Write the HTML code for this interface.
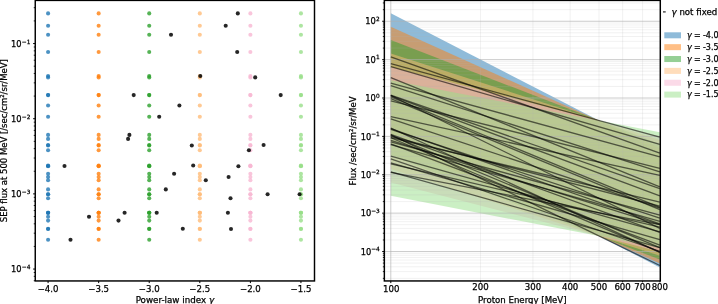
<!DOCTYPE html>
<html lang="en"><head><meta charset="utf-8"><title>SEP flux vs power-law index</title>
<style>html,body{margin:0;padding:0;background:#fff;overflow:hidden}svg{display:block}text{stroke:#000;stroke-width:.25px}</style></head>
<body>
<svg width="718" height="304" viewBox="0 0 718 304" style="display:block;font-family:'DejaVu Sans', 'Liberation Sans', sans-serif;font-size:8.6px" fill="#000">
<rect width="718" height="304" fill="#fff"/>
<g id="left">
<g fill="#1f77b4" fill-opacity="0.8">
<circle cx="48.08" cy="13.40" r="2.05"/>
<circle cx="48.08" cy="25.75" r="2.05"/>
<circle cx="48.08" cy="34.75" r="2.05"/>
<circle cx="48.08" cy="52.00" r="2.05"/>
<circle cx="48.08" cy="76.00" r="2.05"/>
<circle cx="48.08" cy="77.40" r="2.05"/>
<circle cx="48.08" cy="95.10" r="2.05"/>
<circle cx="48.08" cy="95.10" r="2.05"/>
<circle cx="48.08" cy="105.50" r="2.05"/>
<circle cx="48.08" cy="116.80" r="2.05"/>
<circle cx="48.08" cy="134.90" r="2.05"/>
<circle cx="48.08" cy="138.90" r="2.05"/>
<circle cx="48.08" cy="145.50" r="2.05"/>
<circle cx="48.08" cy="145.00" r="2.05"/>
<circle cx="48.08" cy="150.30" r="2.05"/>
<circle cx="48.08" cy="166.00" r="2.05"/>
<circle cx="48.08" cy="165.50" r="2.05"/>
<circle cx="48.08" cy="166.30" r="2.05"/>
<circle cx="48.08" cy="173.80" r="2.05"/>
<circle cx="48.08" cy="177.00" r="2.05"/>
<circle cx="48.08" cy="180.30" r="2.05"/>
<circle cx="48.08" cy="189.40" r="2.05"/>
<circle cx="48.08" cy="194.20" r="2.05"/>
<circle cx="48.08" cy="194.20" r="2.05"/>
<circle cx="48.08" cy="198.20" r="2.05"/>
<circle cx="48.08" cy="212.80" r="2.05"/>
<circle cx="48.08" cy="212.80" r="2.05"/>
<circle cx="48.08" cy="212.80" r="2.05"/>
<circle cx="48.08" cy="216.80" r="2.05"/>
<circle cx="48.08" cy="220.60" r="2.05"/>
<circle cx="48.08" cy="228.80" r="2.05"/>
<circle cx="48.08" cy="229.00" r="2.05"/>
<circle cx="48.08" cy="239.70" r="2.05"/>
</g>
<g fill="#ff7f0e" fill-opacity="0.8">
<circle cx="98.66" cy="13.40" r="2.05"/>
<circle cx="98.66" cy="25.75" r="2.05"/>
<circle cx="98.66" cy="34.75" r="2.05"/>
<circle cx="98.66" cy="52.00" r="2.05"/>
<circle cx="98.66" cy="76.00" r="2.05"/>
<circle cx="98.66" cy="77.40" r="2.05"/>
<circle cx="98.66" cy="95.10" r="2.05"/>
<circle cx="98.66" cy="95.10" r="2.05"/>
<circle cx="98.66" cy="105.50" r="2.05"/>
<circle cx="98.66" cy="116.80" r="2.05"/>
<circle cx="98.66" cy="134.90" r="2.05"/>
<circle cx="98.66" cy="138.90" r="2.05"/>
<circle cx="98.66" cy="145.50" r="2.05"/>
<circle cx="98.66" cy="145.00" r="2.05"/>
<circle cx="98.66" cy="150.30" r="2.05"/>
<circle cx="98.66" cy="166.00" r="2.05"/>
<circle cx="98.66" cy="165.50" r="2.05"/>
<circle cx="98.66" cy="166.30" r="2.05"/>
<circle cx="98.66" cy="173.80" r="2.05"/>
<circle cx="98.66" cy="177.00" r="2.05"/>
<circle cx="98.66" cy="180.30" r="2.05"/>
<circle cx="98.66" cy="189.40" r="2.05"/>
<circle cx="98.66" cy="194.20" r="2.05"/>
<circle cx="98.66" cy="194.20" r="2.05"/>
<circle cx="98.66" cy="198.20" r="2.05"/>
<circle cx="98.66" cy="212.80" r="2.05"/>
<circle cx="98.66" cy="212.80" r="2.05"/>
<circle cx="98.66" cy="212.80" r="2.05"/>
<circle cx="98.66" cy="216.80" r="2.05"/>
<circle cx="98.66" cy="220.60" r="2.05"/>
<circle cx="98.66" cy="228.80" r="2.05"/>
<circle cx="98.66" cy="229.00" r="2.05"/>
<circle cx="98.66" cy="239.70" r="2.05"/>
</g>
<g fill="#2ca02c" fill-opacity="0.8">
<circle cx="149.23" cy="13.40" r="2.05"/>
<circle cx="149.23" cy="25.75" r="2.05"/>
<circle cx="149.23" cy="34.75" r="2.05"/>
<circle cx="149.23" cy="52.00" r="2.05"/>
<circle cx="149.23" cy="76.00" r="2.05"/>
<circle cx="149.23" cy="77.40" r="2.05"/>
<circle cx="149.23" cy="95.10" r="2.05"/>
<circle cx="149.23" cy="95.10" r="2.05"/>
<circle cx="149.23" cy="105.50" r="2.05"/>
<circle cx="149.23" cy="116.80" r="2.05"/>
<circle cx="149.23" cy="134.90" r="2.05"/>
<circle cx="149.23" cy="138.90" r="2.05"/>
<circle cx="149.23" cy="145.50" r="2.05"/>
<circle cx="149.23" cy="145.00" r="2.05"/>
<circle cx="149.23" cy="150.30" r="2.05"/>
<circle cx="149.23" cy="166.00" r="2.05"/>
<circle cx="149.23" cy="165.50" r="2.05"/>
<circle cx="149.23" cy="166.30" r="2.05"/>
<circle cx="149.23" cy="173.80" r="2.05"/>
<circle cx="149.23" cy="177.00" r="2.05"/>
<circle cx="149.23" cy="180.30" r="2.05"/>
<circle cx="149.23" cy="189.40" r="2.05"/>
<circle cx="149.23" cy="194.20" r="2.05"/>
<circle cx="149.23" cy="194.20" r="2.05"/>
<circle cx="149.23" cy="198.20" r="2.05"/>
<circle cx="149.23" cy="212.80" r="2.05"/>
<circle cx="149.23" cy="212.80" r="2.05"/>
<circle cx="149.23" cy="212.80" r="2.05"/>
<circle cx="149.23" cy="216.80" r="2.05"/>
<circle cx="149.23" cy="220.60" r="2.05"/>
<circle cx="149.23" cy="228.80" r="2.05"/>
<circle cx="149.23" cy="229.00" r="2.05"/>
<circle cx="149.23" cy="239.70" r="2.05"/>
</g>
<g fill="#ffbb78" fill-opacity="0.8">
<circle cx="199.81" cy="13.40" r="2.05"/>
<circle cx="199.81" cy="25.75" r="2.05"/>
<circle cx="199.81" cy="34.75" r="2.05"/>
<circle cx="199.81" cy="52.00" r="2.05"/>
<circle cx="199.81" cy="76.00" r="2.05"/>
<circle cx="199.81" cy="77.40" r="2.05"/>
<circle cx="199.81" cy="95.10" r="2.05"/>
<circle cx="199.81" cy="95.10" r="2.05"/>
<circle cx="199.81" cy="105.50" r="2.05"/>
<circle cx="199.81" cy="116.80" r="2.05"/>
<circle cx="199.81" cy="134.90" r="2.05"/>
<circle cx="199.81" cy="138.90" r="2.05"/>
<circle cx="199.81" cy="145.50" r="2.05"/>
<circle cx="199.81" cy="145.00" r="2.05"/>
<circle cx="199.81" cy="150.30" r="2.05"/>
<circle cx="199.81" cy="166.00" r="2.05"/>
<circle cx="199.81" cy="165.50" r="2.05"/>
<circle cx="199.81" cy="166.30" r="2.05"/>
<circle cx="199.81" cy="173.80" r="2.05"/>
<circle cx="199.81" cy="177.00" r="2.05"/>
<circle cx="199.81" cy="180.30" r="2.05"/>
<circle cx="199.81" cy="189.40" r="2.05"/>
<circle cx="199.81" cy="194.20" r="2.05"/>
<circle cx="199.81" cy="194.20" r="2.05"/>
<circle cx="199.81" cy="198.20" r="2.05"/>
<circle cx="199.81" cy="212.80" r="2.05"/>
<circle cx="199.81" cy="212.80" r="2.05"/>
<circle cx="199.81" cy="212.80" r="2.05"/>
<circle cx="199.81" cy="216.80" r="2.05"/>
<circle cx="199.81" cy="220.60" r="2.05"/>
<circle cx="199.81" cy="228.80" r="2.05"/>
<circle cx="199.81" cy="229.00" r="2.05"/>
<circle cx="199.81" cy="239.70" r="2.05"/>
</g>
<g fill="#f7b6d2" fill-opacity="0.8">
<circle cx="250.38" cy="13.40" r="2.05"/>
<circle cx="250.38" cy="25.75" r="2.05"/>
<circle cx="250.38" cy="34.75" r="2.05"/>
<circle cx="250.38" cy="52.00" r="2.05"/>
<circle cx="250.38" cy="76.00" r="2.05"/>
<circle cx="250.38" cy="77.40" r="2.05"/>
<circle cx="250.38" cy="95.10" r="2.05"/>
<circle cx="250.38" cy="95.10" r="2.05"/>
<circle cx="250.38" cy="105.50" r="2.05"/>
<circle cx="250.38" cy="116.80" r="2.05"/>
<circle cx="250.38" cy="134.90" r="2.05"/>
<circle cx="250.38" cy="138.90" r="2.05"/>
<circle cx="250.38" cy="145.50" r="2.05"/>
<circle cx="250.38" cy="145.00" r="2.05"/>
<circle cx="250.38" cy="150.30" r="2.05"/>
<circle cx="250.38" cy="166.00" r="2.05"/>
<circle cx="250.38" cy="165.50" r="2.05"/>
<circle cx="250.38" cy="166.30" r="2.05"/>
<circle cx="250.38" cy="173.80" r="2.05"/>
<circle cx="250.38" cy="177.00" r="2.05"/>
<circle cx="250.38" cy="180.30" r="2.05"/>
<circle cx="250.38" cy="189.40" r="2.05"/>
<circle cx="250.38" cy="194.20" r="2.05"/>
<circle cx="250.38" cy="194.20" r="2.05"/>
<circle cx="250.38" cy="198.20" r="2.05"/>
<circle cx="250.38" cy="212.80" r="2.05"/>
<circle cx="250.38" cy="212.80" r="2.05"/>
<circle cx="250.38" cy="212.80" r="2.05"/>
<circle cx="250.38" cy="216.80" r="2.05"/>
<circle cx="250.38" cy="220.60" r="2.05"/>
<circle cx="250.38" cy="228.80" r="2.05"/>
<circle cx="250.38" cy="229.00" r="2.05"/>
<circle cx="250.38" cy="239.70" r="2.05"/>
</g>
<g fill="#98df8a" fill-opacity="0.8">
<circle cx="300.95" cy="13.40" r="2.05"/>
<circle cx="300.95" cy="25.75" r="2.05"/>
<circle cx="300.95" cy="34.75" r="2.05"/>
<circle cx="300.95" cy="52.00" r="2.05"/>
<circle cx="300.95" cy="76.00" r="2.05"/>
<circle cx="300.95" cy="77.40" r="2.05"/>
<circle cx="300.95" cy="95.10" r="2.05"/>
<circle cx="300.95" cy="95.10" r="2.05"/>
<circle cx="300.95" cy="105.50" r="2.05"/>
<circle cx="300.95" cy="116.80" r="2.05"/>
<circle cx="300.95" cy="134.90" r="2.05"/>
<circle cx="300.95" cy="138.90" r="2.05"/>
<circle cx="300.95" cy="145.50" r="2.05"/>
<circle cx="300.95" cy="145.00" r="2.05"/>
<circle cx="300.95" cy="150.30" r="2.05"/>
<circle cx="300.95" cy="166.00" r="2.05"/>
<circle cx="300.95" cy="165.50" r="2.05"/>
<circle cx="300.95" cy="166.30" r="2.05"/>
<circle cx="300.95" cy="173.80" r="2.05"/>
<circle cx="300.95" cy="177.00" r="2.05"/>
<circle cx="300.95" cy="180.30" r="2.05"/>
<circle cx="300.95" cy="189.40" r="2.05"/>
<circle cx="300.95" cy="194.20" r="2.05"/>
<circle cx="300.95" cy="194.20" r="2.05"/>
<circle cx="300.95" cy="198.20" r="2.05"/>
<circle cx="300.95" cy="212.80" r="2.05"/>
<circle cx="300.95" cy="212.80" r="2.05"/>
<circle cx="300.95" cy="212.80" r="2.05"/>
<circle cx="300.95" cy="216.80" r="2.05"/>
<circle cx="300.95" cy="220.60" r="2.05"/>
<circle cx="300.95" cy="228.80" r="2.05"/>
<circle cx="300.95" cy="229.00" r="2.05"/>
<circle cx="300.95" cy="239.70" r="2.05"/>
</g>
<g fill="#000" fill-opacity="0.85">
<circle cx="237.80" cy="13.40" r="2.05"/>
<circle cx="225.70" cy="25.75" r="2.05"/>
<circle cx="171.00" cy="34.75" r="2.05"/>
<circle cx="237.20" cy="52.00" r="2.05"/>
<circle cx="200.30" cy="76.00" r="2.05"/>
<circle cx="255.20" cy="77.40" r="2.05"/>
<circle cx="133.70" cy="95.10" r="2.05"/>
<circle cx="280.70" cy="95.10" r="2.05"/>
<circle cx="179.40" cy="105.50" r="2.05"/>
<circle cx="159.20" cy="116.80" r="2.05"/>
<circle cx="129.40" cy="134.90" r="2.05"/>
<circle cx="128.10" cy="138.90" r="2.05"/>
<circle cx="191.80" cy="145.50" r="2.05"/>
<circle cx="263.60" cy="145.00" r="2.05"/>
<circle cx="248.90" cy="150.30" r="2.05"/>
<circle cx="64.50" cy="166.00" r="2.05"/>
<circle cx="193.20" cy="165.50" r="2.05"/>
<circle cx="238.40" cy="166.30" r="2.05"/>
<circle cx="174.10" cy="173.80" r="2.05"/>
<circle cx="228.60" cy="177.00" r="2.05"/>
<circle cx="205.80" cy="180.30" r="2.05"/>
<circle cx="165.80" cy="189.40" r="2.05"/>
<circle cx="267.60" cy="194.20" r="2.05"/>
<circle cx="299.60" cy="194.20" r="2.05"/>
<circle cx="230.50" cy="198.20" r="2.05"/>
<circle cx="124.60" cy="212.80" r="2.05"/>
<circle cx="156.70" cy="212.80" r="2.05"/>
<circle cx="227.90" cy="212.80" r="2.05"/>
<circle cx="89.00" cy="216.80" r="2.05"/>
<circle cx="118.50" cy="220.60" r="2.05"/>
<circle cx="182.80" cy="228.80" r="2.05"/>
<circle cx="231.00" cy="229.00" r="2.05"/>
<circle cx="70.50" cy="239.70" r="2.05"/>
</g>
<g stroke="#000" stroke-width="1.0">
<line x1="48.08" y1="280.95" x2="48.08" y2="283.09999999999997"/>
<line x1="98.66" y1="280.95" x2="98.66" y2="283.09999999999997"/>
<line x1="149.23" y1="280.95" x2="149.23" y2="283.09999999999997"/>
<line x1="199.81" y1="280.95" x2="199.81" y2="283.09999999999997"/>
<line x1="250.38" y1="280.95" x2="250.38" y2="283.09999999999997"/>
<line x1="300.95" y1="280.95" x2="300.95" y2="283.09999999999997"/>
<line x1="35.25" y1="269.06" x2="33.1" y2="269.06"/>
<line x1="35.25" y1="193.89" x2="33.1" y2="193.89"/>
<line x1="35.25" y1="118.72" x2="33.1" y2="118.72"/>
<line x1="35.25" y1="43.55" x2="33.1" y2="43.55"/>
<line x1="35.25" y1="280.70" x2="33.75" y2="280.70" stroke-width="0.85"/>
<line x1="35.25" y1="276.34" x2="33.75" y2="276.34" stroke-width="0.85"/>
<line x1="35.25" y1="272.50" x2="33.75" y2="272.50" stroke-width="0.85"/>
<line x1="35.25" y1="246.43" x2="33.75" y2="246.43" stroke-width="0.85"/>
<line x1="35.25" y1="233.19" x2="33.75" y2="233.19" stroke-width="0.85"/>
<line x1="35.25" y1="223.80" x2="33.75" y2="223.80" stroke-width="0.85"/>
<line x1="35.25" y1="216.52" x2="33.75" y2="216.52" stroke-width="0.85"/>
<line x1="35.25" y1="210.57" x2="33.75" y2="210.57" stroke-width="0.85"/>
<line x1="35.25" y1="205.53" x2="33.75" y2="205.53" stroke-width="0.85"/>
<line x1="35.25" y1="201.17" x2="33.75" y2="201.17" stroke-width="0.85"/>
<line x1="35.25" y1="197.33" x2="33.75" y2="197.33" stroke-width="0.85"/>
<line x1="35.25" y1="171.26" x2="33.75" y2="171.26" stroke-width="0.85"/>
<line x1="35.25" y1="158.02" x2="33.75" y2="158.02" stroke-width="0.85"/>
<line x1="35.25" y1="148.63" x2="33.75" y2="148.63" stroke-width="0.85"/>
<line x1="35.25" y1="141.35" x2="33.75" y2="141.35" stroke-width="0.85"/>
<line x1="35.25" y1="135.40" x2="33.75" y2="135.40" stroke-width="0.85"/>
<line x1="35.25" y1="130.36" x2="33.75" y2="130.36" stroke-width="0.85"/>
<line x1="35.25" y1="126.00" x2="33.75" y2="126.00" stroke-width="0.85"/>
<line x1="35.25" y1="122.16" x2="33.75" y2="122.16" stroke-width="0.85"/>
<line x1="35.25" y1="96.09" x2="33.75" y2="96.09" stroke-width="0.85"/>
<line x1="35.25" y1="82.85" x2="33.75" y2="82.85" stroke-width="0.85"/>
<line x1="35.25" y1="73.46" x2="33.75" y2="73.46" stroke-width="0.85"/>
<line x1="35.25" y1="66.18" x2="33.75" y2="66.18" stroke-width="0.85"/>
<line x1="35.25" y1="60.23" x2="33.75" y2="60.23" stroke-width="0.85"/>
<line x1="35.25" y1="55.19" x2="33.75" y2="55.19" stroke-width="0.85"/>
<line x1="35.25" y1="50.83" x2="33.75" y2="50.83" stroke-width="0.85"/>
<line x1="35.25" y1="46.99" x2="33.75" y2="46.99" stroke-width="0.85"/>
<line x1="35.25" y1="20.92" x2="33.75" y2="20.92" stroke-width="0.85"/>
<line x1="35.25" y1="7.68" x2="33.75" y2="7.68" stroke-width="0.85"/>
</g>
<rect x="35.25" y="0.4" width="279.25" height="280.55" fill="none" stroke="#000" stroke-width="1.45"/>
<text x="48.08" y="291.9" text-anchor="middle">−4.0</text>
<text x="98.66" y="291.9" text-anchor="middle">−3.5</text>
<text x="149.23" y="291.9" text-anchor="middle">−3.0</text>
<text x="199.81" y="291.9" text-anchor="middle">−2.5</text>
<text x="250.38" y="291.9" text-anchor="middle">−2.0</text>
<text x="300.95" y="291.9" text-anchor="middle">−1.5</text>
<text x="174.88" y="302.6" text-anchor="middle" font-size="8.72px">Power-law index <tspan font-style="italic">γ</tspan></text>
<text x="30.40" y="272.21" text-anchor="end" font-size="8.3px">10<tspan dx="0.3" dy="-3.0" font-size="5.8px">−4</tspan></text>
<text x="30.40" y="197.04" text-anchor="end" font-size="8.3px">10<tspan dx="0.3" dy="-3.0" font-size="5.8px">−3</tspan></text>
<text x="30.40" y="121.87" text-anchor="end" font-size="8.3px">10<tspan dx="0.3" dy="-3.0" font-size="5.8px">−2</tspan></text>
<text x="30.40" y="46.70" text-anchor="end" font-size="8.3px">10<tspan dx="0.3" dy="-3.0" font-size="5.8px">−1</tspan></text>
<text transform="translate(7.2,140.67) rotate(-90)" text-anchor="middle" font-size="8.49px">SEP flux at 500 MeV [/sec/cm²/sr/MeV]</text>
</g>
<g id="right">
<clipPath id="rc"><rect x="384.35" y="0.4" width="275.94999999999993" height="280.55"/></clipPath>
<g clip-path="url(#rc)">
<polygon fill="#1f77b4" fill-opacity="0.5" points="390.80,13.23 659.83,151.87 659.83,267.42 390.80,128.77"/>
<polygon fill="#ff7f0e" fill-opacity="0.5" points="390.80,26.64 659.83,147.96 659.83,263.50 390.80,142.19"/>
<polygon fill="#2ca02c" fill-opacity="0.5" points="390.80,40.06 659.83,144.04 659.83,259.58 390.80,155.60"/>
<polygon fill="#ffbb78" fill-opacity="0.5" points="390.80,53.47 659.83,140.12 659.83,255.66 390.80,169.01"/>
<polygon fill="#f7b6d2" fill-opacity="0.5" points="390.80,66.88 659.83,136.20 659.83,251.75 390.80,182.43"/>
<polygon fill="#98df8a" fill-opacity="0.5" points="390.80,80.30 659.83,132.29 659.83,247.83 390.80,195.84"/>
<g stroke="#b4b4b4" stroke-opacity="0.36" stroke-width="0.5">
<line x1="384.35" y1="278.36" x2="660.3" y2="278.36"/>
<line x1="384.35" y1="271.60" x2="660.3" y2="271.60"/>
<line x1="384.35" y1="266.80" x2="660.3" y2="266.80"/>
<line x1="384.35" y1="263.08" x2="660.3" y2="263.08"/>
<line x1="384.35" y1="260.04" x2="660.3" y2="260.04"/>
<line x1="384.35" y1="257.48" x2="660.3" y2="257.48"/>
<line x1="384.35" y1="255.25" x2="660.3" y2="255.25"/>
<line x1="384.35" y1="253.29" x2="660.3" y2="253.29"/>
<line x1="384.35" y1="239.98" x2="660.3" y2="239.98"/>
<line x1="384.35" y1="233.22" x2="660.3" y2="233.22"/>
<line x1="384.35" y1="228.42" x2="660.3" y2="228.42"/>
<line x1="384.35" y1="224.70" x2="660.3" y2="224.70"/>
<line x1="384.35" y1="221.66" x2="660.3" y2="221.66"/>
<line x1="384.35" y1="219.10" x2="660.3" y2="219.10"/>
<line x1="384.35" y1="216.87" x2="660.3" y2="216.87"/>
<line x1="384.35" y1="214.91" x2="660.3" y2="214.91"/>
<line x1="384.35" y1="201.60" x2="660.3" y2="201.60"/>
<line x1="384.35" y1="194.84" x2="660.3" y2="194.84"/>
<line x1="384.35" y1="190.04" x2="660.3" y2="190.04"/>
<line x1="384.35" y1="186.32" x2="660.3" y2="186.32"/>
<line x1="384.35" y1="183.28" x2="660.3" y2="183.28"/>
<line x1="384.35" y1="180.72" x2="660.3" y2="180.72"/>
<line x1="384.35" y1="178.49" x2="660.3" y2="178.49"/>
<line x1="384.35" y1="176.53" x2="660.3" y2="176.53"/>
<line x1="384.35" y1="163.22" x2="660.3" y2="163.22"/>
<line x1="384.35" y1="156.46" x2="660.3" y2="156.46"/>
<line x1="384.35" y1="151.66" x2="660.3" y2="151.66"/>
<line x1="384.35" y1="147.94" x2="660.3" y2="147.94"/>
<line x1="384.35" y1="144.90" x2="660.3" y2="144.90"/>
<line x1="384.35" y1="142.34" x2="660.3" y2="142.34"/>
<line x1="384.35" y1="140.11" x2="660.3" y2="140.11"/>
<line x1="384.35" y1="138.15" x2="660.3" y2="138.15"/>
<line x1="384.35" y1="124.84" x2="660.3" y2="124.84"/>
<line x1="384.35" y1="118.08" x2="660.3" y2="118.08"/>
<line x1="384.35" y1="113.28" x2="660.3" y2="113.28"/>
<line x1="384.35" y1="109.56" x2="660.3" y2="109.56"/>
<line x1="384.35" y1="106.52" x2="660.3" y2="106.52"/>
<line x1="384.35" y1="103.96" x2="660.3" y2="103.96"/>
<line x1="384.35" y1="101.73" x2="660.3" y2="101.73"/>
<line x1="384.35" y1="99.77" x2="660.3" y2="99.77"/>
<line x1="384.35" y1="86.46" x2="660.3" y2="86.46"/>
<line x1="384.35" y1="79.70" x2="660.3" y2="79.70"/>
<line x1="384.35" y1="74.90" x2="660.3" y2="74.90"/>
<line x1="384.35" y1="71.18" x2="660.3" y2="71.18"/>
<line x1="384.35" y1="68.14" x2="660.3" y2="68.14"/>
<line x1="384.35" y1="65.58" x2="660.3" y2="65.58"/>
<line x1="384.35" y1="63.35" x2="660.3" y2="63.35"/>
<line x1="384.35" y1="61.39" x2="660.3" y2="61.39"/>
<line x1="384.35" y1="48.08" x2="660.3" y2="48.08"/>
<line x1="384.35" y1="41.32" x2="660.3" y2="41.32"/>
<line x1="384.35" y1="36.52" x2="660.3" y2="36.52"/>
<line x1="384.35" y1="32.80" x2="660.3" y2="32.80"/>
<line x1="384.35" y1="29.76" x2="660.3" y2="29.76"/>
<line x1="384.35" y1="27.20" x2="660.3" y2="27.20"/>
<line x1="384.35" y1="24.97" x2="660.3" y2="24.97"/>
<line x1="384.35" y1="23.01" x2="660.3" y2="23.01"/>
<line x1="384.35" y1="9.70" x2="660.3" y2="9.70"/>
<line x1="384.35" y1="2.94" x2="660.3" y2="2.94"/>
<line x1="480.48" y1="0.4" x2="480.48" y2="280.95"/>
<line x1="532.93" y1="0.4" x2="532.93" y2="280.95"/>
<line x1="570.15" y1="0.4" x2="570.15" y2="280.95"/>
<line x1="599.02" y1="0.4" x2="599.02" y2="280.95"/>
<line x1="622.61" y1="0.4" x2="622.61" y2="280.95"/>
<line x1="642.55" y1="0.4" x2="642.55" y2="280.95"/>
<line x1="659.83" y1="0.4" x2="659.83" y2="280.95"/>
</g>
<g stroke="#b0b0b0" stroke-width="0.65">
<line x1="384.35" y1="251.53" x2="660.3" y2="251.53"/>
<line x1="384.35" y1="213.15" x2="660.3" y2="213.15"/>
<line x1="384.35" y1="174.77" x2="660.3" y2="174.77"/>
<line x1="384.35" y1="136.39" x2="660.3" y2="136.39"/>
<line x1="384.35" y1="98.01" x2="660.3" y2="98.01"/>
<line x1="384.35" y1="59.63" x2="660.3" y2="59.63"/>
<line x1="384.35" y1="21.25" x2="660.3" y2="21.25"/>
<line x1="390.80" y1="0.4" x2="390.80" y2="280.95"/>
</g>
<g stroke="#000" stroke-opacity="0.58" stroke-width="1.3" fill="none">
<line x1="390.80" y1="63.59" x2="659.83" y2="137.02"/>
<line x1="390.80" y1="66.69" x2="659.83" y2="144.26"/>
<line x1="390.80" y1="56.78" x2="659.83" y2="153.09"/>
<line x1="390.80" y1="83.14" x2="659.83" y2="156.77"/>
<line x1="390.80" y1="85.61" x2="659.83" y2="171.88"/>
<line x1="390.80" y1="100.88" x2="659.83" y2="168.35"/>
<line x1="390.80" y1="77.70" x2="659.83" y2="186.79"/>
<line x1="390.80" y1="116.68" x2="659.83" y2="175.41"/>
<line x1="390.80" y1="95.13" x2="659.83" y2="188.56"/>
<line x1="390.80" y1="95.54" x2="659.83" y2="195.90"/>
<line x1="390.80" y1="96.88" x2="659.83" y2="207.45"/>
<line x1="390.80" y1="98.58" x2="659.83" y2="209.59"/>
<line x1="390.80" y1="118.84" x2="659.83" y2="208.03"/>
<line x1="390.80" y1="137.63" x2="659.83" y2="202.21"/>
<line x1="390.80" y1="136.43" x2="659.83" y2="206.05"/>
<line x1="390.80" y1="95.54" x2="659.83" y2="228.35"/>
<line x1="390.80" y1="129.42" x2="659.83" y2="218.13"/>
<line x1="390.80" y1="141.82" x2="659.83" y2="215.04"/>
<line x1="390.80" y1="128.59" x2="659.83" y2="223.85"/>
<line x1="390.80" y1="144.68" x2="659.83" y2="221.26"/>
<line x1="390.80" y1="140.32" x2="659.83" y2="224.71"/>
<line x1="390.80" y1="134.36" x2="659.83" y2="232.45"/>
<line x1="390.80" y1="163.81" x2="659.83" y2="227.02"/>
<line x1="390.80" y1="172.29" x2="659.83" y2="224.54"/>
<line x1="390.80" y1="156.01" x2="659.83" y2="231.94"/>
<line x1="390.80" y1="135.38" x2="659.83" y2="247.59"/>
<line x1="390.80" y1="143.89" x2="659.83" y2="245.11"/>
<line x1="390.80" y1="162.78" x2="659.83" y2="239.59"/>
<line x1="390.80" y1="127.98" x2="659.83" y2="252.39"/>
<line x1="390.80" y1="137.74" x2="659.83" y2="252.05"/>
<line x1="390.80" y1="158.98" x2="659.83" y2="251.25"/>
<line x1="390.80" y1="171.87" x2="659.83" y2="247.62"/>
<line x1="390.80" y1="134.76" x2="659.83" y2="265.52"/>
</g>
</g>
<g stroke="#000" stroke-width="1.0">
<line x1="390.80" y1="280.95" x2="390.80" y2="283.09999999999997"/>
<line x1="480.48" y1="280.95" x2="480.48" y2="282.45" stroke-width="0.85"/>
<line x1="532.93" y1="280.95" x2="532.93" y2="282.45" stroke-width="0.85"/>
<line x1="570.15" y1="280.95" x2="570.15" y2="282.45" stroke-width="0.85"/>
<line x1="599.02" y1="280.95" x2="599.02" y2="282.45" stroke-width="0.85"/>
<line x1="622.61" y1="280.95" x2="622.61" y2="282.45" stroke-width="0.85"/>
<line x1="642.55" y1="280.95" x2="642.55" y2="282.45" stroke-width="0.85"/>
<line x1="659.83" y1="280.95" x2="659.83" y2="282.45" stroke-width="0.85"/>
<line x1="384.35" y1="251.53" x2="382.20000000000005" y2="251.53"/>
<line x1="384.35" y1="213.15" x2="382.20000000000005" y2="213.15"/>
<line x1="384.35" y1="174.77" x2="382.20000000000005" y2="174.77"/>
<line x1="384.35" y1="136.39" x2="382.20000000000005" y2="136.39"/>
<line x1="384.35" y1="98.01" x2="382.20000000000005" y2="98.01"/>
<line x1="384.35" y1="59.63" x2="382.20000000000005" y2="59.63"/>
<line x1="384.35" y1="21.25" x2="382.20000000000005" y2="21.25"/>
<line x1="384.35" y1="278.36" x2="382.85" y2="278.36" stroke-width="0.85"/>
<line x1="384.35" y1="271.60" x2="382.85" y2="271.60" stroke-width="0.85"/>
<line x1="384.35" y1="266.80" x2="382.85" y2="266.80" stroke-width="0.85"/>
<line x1="384.35" y1="263.08" x2="382.85" y2="263.08" stroke-width="0.85"/>
<line x1="384.35" y1="260.04" x2="382.85" y2="260.04" stroke-width="0.85"/>
<line x1="384.35" y1="257.48" x2="382.85" y2="257.48" stroke-width="0.85"/>
<line x1="384.35" y1="255.25" x2="382.85" y2="255.25" stroke-width="0.85"/>
<line x1="384.35" y1="253.29" x2="382.85" y2="253.29" stroke-width="0.85"/>
<line x1="384.35" y1="239.98" x2="382.85" y2="239.98" stroke-width="0.85"/>
<line x1="384.35" y1="233.22" x2="382.85" y2="233.22" stroke-width="0.85"/>
<line x1="384.35" y1="228.42" x2="382.85" y2="228.42" stroke-width="0.85"/>
<line x1="384.35" y1="224.70" x2="382.85" y2="224.70" stroke-width="0.85"/>
<line x1="384.35" y1="221.66" x2="382.85" y2="221.66" stroke-width="0.85"/>
<line x1="384.35" y1="219.10" x2="382.85" y2="219.10" stroke-width="0.85"/>
<line x1="384.35" y1="216.87" x2="382.85" y2="216.87" stroke-width="0.85"/>
<line x1="384.35" y1="214.91" x2="382.85" y2="214.91" stroke-width="0.85"/>
<line x1="384.35" y1="201.60" x2="382.85" y2="201.60" stroke-width="0.85"/>
<line x1="384.35" y1="194.84" x2="382.85" y2="194.84" stroke-width="0.85"/>
<line x1="384.35" y1="190.04" x2="382.85" y2="190.04" stroke-width="0.85"/>
<line x1="384.35" y1="186.32" x2="382.85" y2="186.32" stroke-width="0.85"/>
<line x1="384.35" y1="183.28" x2="382.85" y2="183.28" stroke-width="0.85"/>
<line x1="384.35" y1="180.72" x2="382.85" y2="180.72" stroke-width="0.85"/>
<line x1="384.35" y1="178.49" x2="382.85" y2="178.49" stroke-width="0.85"/>
<line x1="384.35" y1="176.53" x2="382.85" y2="176.53" stroke-width="0.85"/>
<line x1="384.35" y1="163.22" x2="382.85" y2="163.22" stroke-width="0.85"/>
<line x1="384.35" y1="156.46" x2="382.85" y2="156.46" stroke-width="0.85"/>
<line x1="384.35" y1="151.66" x2="382.85" y2="151.66" stroke-width="0.85"/>
<line x1="384.35" y1="147.94" x2="382.85" y2="147.94" stroke-width="0.85"/>
<line x1="384.35" y1="144.90" x2="382.85" y2="144.90" stroke-width="0.85"/>
<line x1="384.35" y1="142.34" x2="382.85" y2="142.34" stroke-width="0.85"/>
<line x1="384.35" y1="140.11" x2="382.85" y2="140.11" stroke-width="0.85"/>
<line x1="384.35" y1="138.15" x2="382.85" y2="138.15" stroke-width="0.85"/>
<line x1="384.35" y1="124.84" x2="382.85" y2="124.84" stroke-width="0.85"/>
<line x1="384.35" y1="118.08" x2="382.85" y2="118.08" stroke-width="0.85"/>
<line x1="384.35" y1="113.28" x2="382.85" y2="113.28" stroke-width="0.85"/>
<line x1="384.35" y1="109.56" x2="382.85" y2="109.56" stroke-width="0.85"/>
<line x1="384.35" y1="106.52" x2="382.85" y2="106.52" stroke-width="0.85"/>
<line x1="384.35" y1="103.96" x2="382.85" y2="103.96" stroke-width="0.85"/>
<line x1="384.35" y1="101.73" x2="382.85" y2="101.73" stroke-width="0.85"/>
<line x1="384.35" y1="99.77" x2="382.85" y2="99.77" stroke-width="0.85"/>
<line x1="384.35" y1="86.46" x2="382.85" y2="86.46" stroke-width="0.85"/>
<line x1="384.35" y1="79.70" x2="382.85" y2="79.70" stroke-width="0.85"/>
<line x1="384.35" y1="74.90" x2="382.85" y2="74.90" stroke-width="0.85"/>
<line x1="384.35" y1="71.18" x2="382.85" y2="71.18" stroke-width="0.85"/>
<line x1="384.35" y1="68.14" x2="382.85" y2="68.14" stroke-width="0.85"/>
<line x1="384.35" y1="65.58" x2="382.85" y2="65.58" stroke-width="0.85"/>
<line x1="384.35" y1="63.35" x2="382.85" y2="63.35" stroke-width="0.85"/>
<line x1="384.35" y1="61.39" x2="382.85" y2="61.39" stroke-width="0.85"/>
<line x1="384.35" y1="48.08" x2="382.85" y2="48.08" stroke-width="0.85"/>
<line x1="384.35" y1="41.32" x2="382.85" y2="41.32" stroke-width="0.85"/>
<line x1="384.35" y1="36.52" x2="382.85" y2="36.52" stroke-width="0.85"/>
<line x1="384.35" y1="32.80" x2="382.85" y2="32.80" stroke-width="0.85"/>
<line x1="384.35" y1="29.76" x2="382.85" y2="29.76" stroke-width="0.85"/>
<line x1="384.35" y1="27.20" x2="382.85" y2="27.20" stroke-width="0.85"/>
<line x1="384.35" y1="24.97" x2="382.85" y2="24.97" stroke-width="0.85"/>
<line x1="384.35" y1="23.01" x2="382.85" y2="23.01" stroke-width="0.85"/>
<line x1="384.35" y1="9.70" x2="382.85" y2="9.70" stroke-width="0.85"/>
<line x1="384.35" y1="2.94" x2="382.85" y2="2.94" stroke-width="0.85"/>
</g>
<rect x="384.35" y="0.4" width="275.94999999999993" height="280.55" fill="none" stroke="#000" stroke-width="1.45"/>
<text x="391.20" y="291.9" text-anchor="middle">100</text>
<text x="480.48" y="289.6" text-anchor="middle">200</text>
<text x="532.93" y="289.6" text-anchor="middle">300</text>
<text x="570.15" y="289.6" text-anchor="middle">400</text>
<text x="599.02" y="289.6" text-anchor="middle">500</text>
<text x="622.61" y="289.6" text-anchor="middle">600</text>
<text x="642.55" y="289.6" text-anchor="middle">700</text>
<text x="659.83" y="289.6" text-anchor="middle">800</text>
<text x="522.33" y="302.6" text-anchor="middle">Proton Energy [MeV]</text>
<text x="379.75" y="254.68" text-anchor="end" font-size="8.3px">10<tspan dx="0.0" dy="-3.5" font-size="5.8px">−4</tspan></text>
<text x="379.75" y="216.30" text-anchor="end" font-size="8.3px">10<tspan dx="0.0" dy="-3.5" font-size="5.8px">−3</tspan></text>
<text x="379.75" y="177.92" text-anchor="end" font-size="8.3px">10<tspan dx="0.0" dy="-3.5" font-size="5.8px">−2</tspan></text>
<text x="379.75" y="139.54" text-anchor="end" font-size="8.3px">10<tspan dx="0.0" dy="-3.5" font-size="5.8px">−1</tspan></text>
<text x="379.75" y="101.16" text-anchor="end" font-size="8.3px">10<tspan dx="0.2" dy="-3.5" font-size="5.8px">0</tspan></text>
<text x="379.75" y="62.78" text-anchor="end" font-size="8.3px">10<tspan dx="0.2" dy="-3.5" font-size="5.8px">1</tspan></text>
<text x="379.75" y="24.40" text-anchor="end" font-size="8.3px">10<tspan dx="0.2" dy="-3.5" font-size="5.8px">2</tspan></text>
<text transform="translate(356.3,141.02) rotate(-90)" text-anchor="middle" font-size="8.53px">Flux /sec/cm²/sr/MeV</text>
<line x1="663.0" y1="11.9" x2="665.7" y2="11.9" stroke="#000" stroke-opacity="0.85" stroke-width="1.2"/>
<text x="671.6" y="14.9"><tspan font-style="italic">γ</tspan> not fixed</text>
<rect x="664.3" y="32.30" width="16.7" height="6" fill="#1f77b4" fill-opacity="0.5"/>
<text x="687.0" y="38.10" word-spacing="-0.3" font-size="8px"><tspan font-style="italic">γ</tspan> = -4.0</text>
<rect x="664.3" y="44.16" width="16.7" height="6" fill="#ff7f0e" fill-opacity="0.5"/>
<text x="687.0" y="49.96" word-spacing="-0.3" font-size="8px"><tspan font-style="italic">γ</tspan> = -3.5</text>
<rect x="664.3" y="56.02" width="16.7" height="6" fill="#2ca02c" fill-opacity="0.5"/>
<text x="687.0" y="61.82" word-spacing="-0.3" font-size="8px"><tspan font-style="italic">γ</tspan> = -3.0</text>
<rect x="664.3" y="67.88" width="16.7" height="6" fill="#ffbb78" fill-opacity="0.5"/>
<text x="687.0" y="73.68" word-spacing="-0.3" font-size="8px"><tspan font-style="italic">γ</tspan> = -2.5</text>
<rect x="664.3" y="79.74" width="16.7" height="6" fill="#f7b6d2" fill-opacity="0.5"/>
<text x="687.0" y="85.54" word-spacing="-0.3" font-size="8px"><tspan font-style="italic">γ</tspan> = -2.0</text>
<rect x="664.3" y="91.60" width="16.7" height="6" fill="#98df8a" fill-opacity="0.5"/>
<text x="687.0" y="97.40" word-spacing="-0.3" font-size="8px"><tspan font-style="italic">γ</tspan> = -1.5</text>
</g>
</svg>
</body></html>
